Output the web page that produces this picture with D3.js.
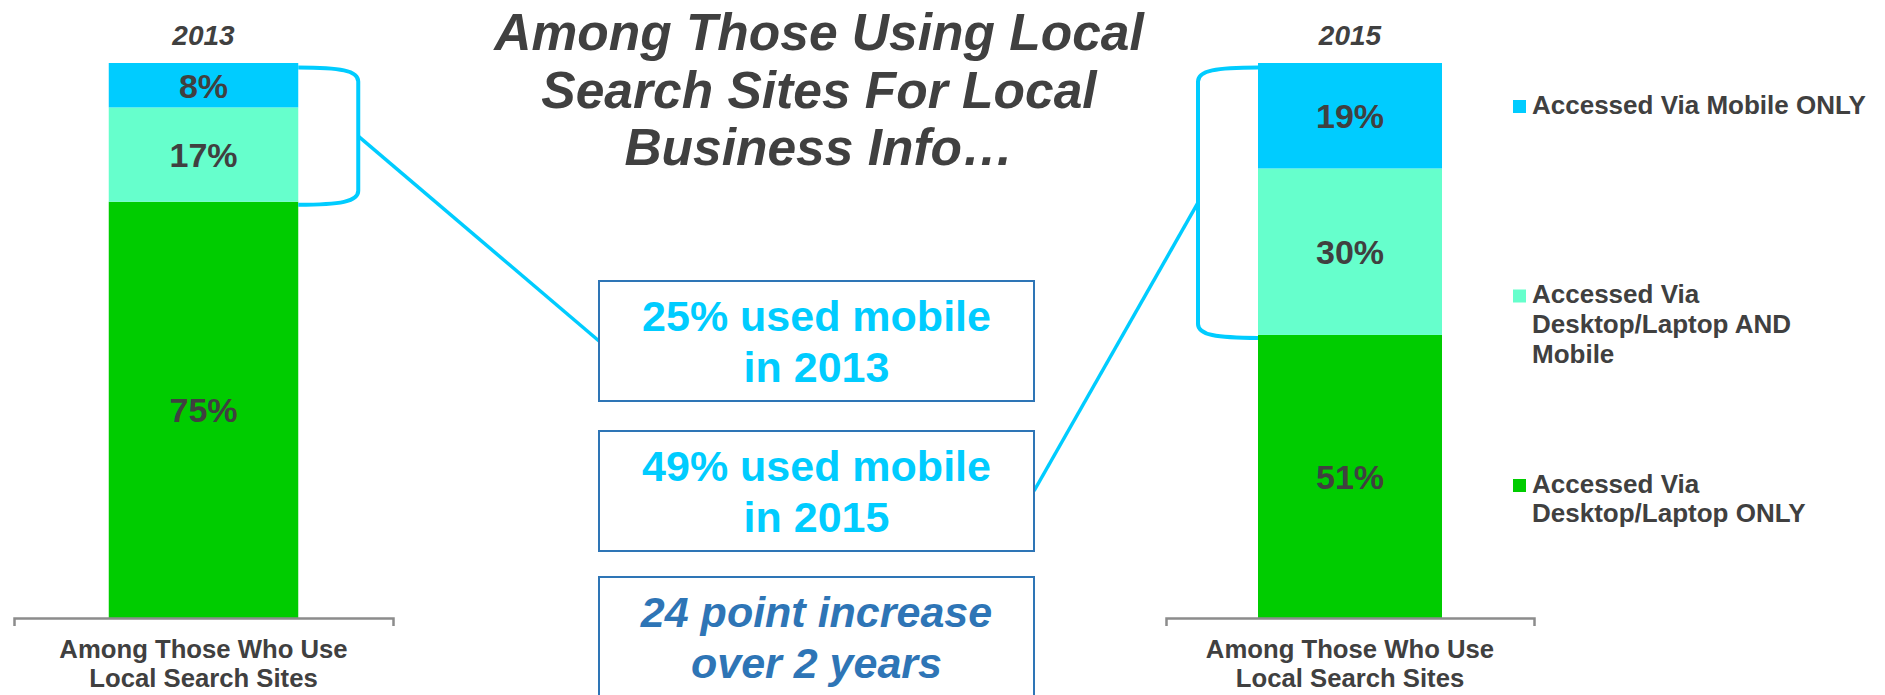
<!DOCTYPE html>
<html>
<head>
<meta charset="utf-8">
<script src="https://cdn.jsdelivr.net/npm/d3@7/dist/d3.min.js"></script>
<style>
    body { margin: 0; background: #fff; }
    text { font-family: "Liberation Sans", Arial, sans-serif; }
</style>
</head>
<body>
<script>
// Chart data
var years = ["2013", "2015"];
var category = ["Among Those Who Use", "Local Search Sites"];
var seriesKeys = ["desktopOnly", "desktopAndMobile", "mobileOnly"];
var desktopOnly = [75, 51];
var desktopAndMobile = [17, 30];
var mobileOnly = [8, 19];
var seriesColors = ["#00CC00", "#66FFCC", "#00CCFF"];
var legendLabels = [
    ["Accessed Via Mobile ONLY"],
    ["Accessed Via", "Desktop/Laptop AND", "Mobile"],
    ["Accessed Via", "Desktop/Laptop ONLY"]
];
var legendColors = ["#00CCFF", "#66FFCC", "#00CC00"];
var titleLines = ["Among Those Using Local", "Search Sites For Local",
    "Business Info\u2026"];

var width = 1885, height = 695;
var grey = "#404040", cyan = "#00CCFF", boxBlue = "#2E75B6";

var svg = d3.select("body").append("svg")
    .attr("width", width)
    .attr("height", height);

// rows for the stack, one per year
var rows = years.map(function(yr, i) {
    return {year: yr, desktopOnly: desktopOnly[i],
        desktopAndMobile: desktopAndMobile[i], mobileOnly: mobileOnly[i]};
});
var stacked = d3.stack().keys(seriesKeys)(rows);

var y = d3.scaleLinear().domain([0, 100]).range([618, 63]);

// each year gets its own panel
var panelRanges = [[14, 393], [1166, 1534]];
var xs = panelRanges.map(function(r) {
    return d3.scaleBand().domain([category.join(" ")]).range(r)
        .paddingInner(0).paddingOuter(0.5);
});

years.forEach(function(yr, i) {
    var x = xs[i];
    var cat = x.domain()[0];
    var g = svg.append("g");

    // stacked segments
    stacked.forEach(function(s, k) {
        var d = s[i];
        g.append("rect")
            .attr("x", x(cat))
            .attr("width", x.bandwidth())
            .attr("y", y(d[1]))
            .attr("height", y(d[0]) - y(d[1]))
            .attr("fill", seriesColors[k]);
        g.append("text")
            .attr("x", x(cat) + x.bandwidth() / 2)
            .attr("y", (y(d[0]) + y(d[1])) / 2)
            .attr("dy", "0.37em")
            .attr("text-anchor", "middle")
            .style("font-size", "34px")
            .style("font-weight", "bold")
            .attr("fill", grey)
            .text((d[1] - d[0]) + "%");
    });

    // axis with outer ticks only
    var axis = g.append("g")
        .attr("transform", "translate(0," + y(0) + ")")
        .call(d3.axisBottom(x).tickSizeInner(0).tickSizeOuter(8)
            .tickFormat(""));
    axis.select(".domain").attr("stroke", "#8c8c8c")
        .attr("stroke-width", 2.5);

    // category label
    g.append("text")
        .attr("text-anchor", "middle")
        .style("font-size", "25.7px")
        .style("font-weight", "bold")
        .attr("fill", grey)
        .selectAll("tspan")
        .data(category)
        .enter().append("tspan")
        .attr("x", x(cat) + x.bandwidth() / 2)
        .attr("y", function(d, j) { return 658 + j * 29; })
        .text(function(d) { return d; });

    // year label
    g.append("text")
        .attr("x", x(cat) + x.bandwidth() / 2)
        .attr("y", 45)
        .attr("text-anchor", "middle")
        .style("font-size", "28px")
        .style("font-weight", "bold")
        .style("font-style", "italic")
        .attr("fill", grey)
        .text(yr);
});

// brackets around the mobile part of each bar
function bracket(i, side) {
    var x = xs[i], cat = x.domain()[0];
    var xBar = side > 0 ? x(cat) + x.bandwidth() : x(cat);
    var xOut = xBar + side * 60;
    var top = y(100) + 4.5, bot = y(desktopOnly[i]) + 3;
    var p = d3.path();
    p.moveTo(xBar, top);
    p.bezierCurveTo(xBar + side * 42, top, xOut, top + 3, xOut, top + 14);
    p.lineTo(xOut, bot - 14);
    p.bezierCurveTo(xOut, bot - 3, xBar + side * 42, bot, xBar, bot);
    svg.append("path")
        .attr("d", p.toString())
        .attr("fill", "none")
        .attr("stroke", cyan)
        .attr("stroke-width", 4);
    return {x: xOut, y: (top + 14 + bot - 14) / 2};
}
var leftHook = bracket(0, 1);
var rightHook = bracket(1, -1);

// callout boxes
var boxX = 599, boxW = 435, boxH = 120;
var boxTops = [281, 431, 577];
var mobile13 = desktopAndMobile[0] + mobileOnly[0];
var mobile15 = desktopAndMobile[1] + mobileOnly[1];
var boxLines = [
    [mobile13 + "% used mobile", "in " + years[0]],
    [mobile15 + "% used mobile", "in " + years[1]],
    [(mobile15 - mobile13) + " point increase", "over 2 years"]
];

// connector lines
svg.append("line")
    .attr("x1", leftHook.x).attr("y1", leftHook.y)
    .attr("x2", boxX).attr("y2", boxTops[0] + boxH / 2)
    .attr("stroke", cyan).attr("stroke-width", 3.5);
svg.append("line")
    .attr("x1", boxX + boxW).attr("y1", boxTops[1] + boxH / 2)
    .attr("x2", rightHook.x).attr("y2", rightHook.y)
    .attr("stroke", cyan).attr("stroke-width", 3.5);

boxTops.forEach(function(t, i) {
    svg.append("rect")
        .attr("x", boxX).attr("y", t)
        .attr("width", boxW).attr("height", boxH)
        .attr("fill", "#fff")
        .attr("stroke", boxBlue)
        .attr("stroke-width", 2);
    svg.append("text")
        .attr("text-anchor", "middle")
        .style("font-size", "43px")
        .style("font-weight", "bold")
        .style("font-style", i == 2 ? "italic" : "normal")
        .attr("fill", i == 2 ? boxBlue : cyan)
        .selectAll("tspan")
        .data(boxLines[i])
        .enter().append("tspan")
        .attr("x", boxX + boxW / 2)
        .attr("y", function(d, j) { return t + 50 + j * 51; })
        .text(function(d) { return d; });
});

// title
svg.append("text")
    .attr("text-anchor", "middle")
    .style("font-size", "51.5px")
    .style("font-weight", "bold")
    .style("font-style", "italic")
    .attr("fill", grey)
    .selectAll("tspan")
    .data(titleLines)
    .enter().append("tspan")
    .attr("x", 819)
    .attr("y", function(d, j) { return 50 + j * 57.5; })
    .text(function(d) { return d; });

// legend
var legend = svg.append("g").attr("transform", "translate(1513,100)");
legendLabels.forEach(function(lines, i) {
    var item = legend.append("g")
        .attr("transform", "translate(0," + (i * 189.5) + ")");
    item.append("rect")
        .attr("width", 13).attr("height", 13)
        .attr("fill", legendColors[i]);
    item.append("text")
        .style("font-size", "26px")
        .style("font-weight", "bold")
        .attr("fill", grey)
        .selectAll("tspan")
        .data(lines)
        .enter().append("tspan")
        .attr("x", 19)
        .attr("y", function(d, j) { return 13.5 + j * 29.8; })
        .text(function(d) { return d; });
});
</script>
</body>
</html>
